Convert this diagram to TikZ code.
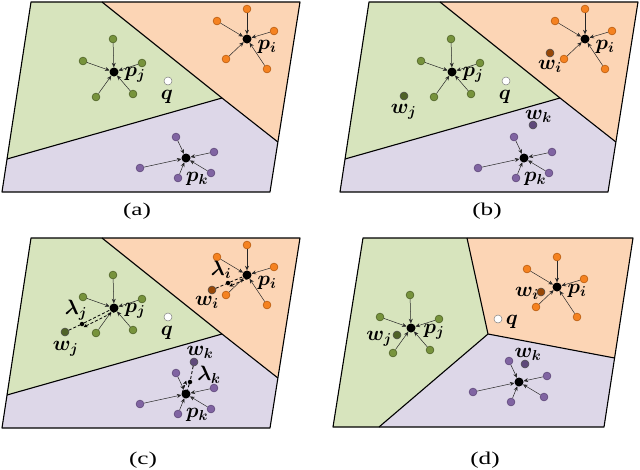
\documentclass[tikz,border=0pt]{standalone}
\usepackage{fontspec}
\newfontfamily\capfont{Liberation Serif}
\usetikzlibrary{arrows.meta,calc}
\definecolor{rgG}{HTML}{D7E4BD}
\definecolor{rgO}{HTML}{FCD5B5}
\definecolor{rgP}{HTML}{DDD7E8}
\definecolor{stG}{HTML}{77933C}
\definecolor{stGd}{HTML}{4F6228}
\definecolor{stO}{HTML}{F58220}
\definecolor{stOd}{HTML}{B85C10}
\definecolor{stP}{HTML}{8064A2}
\definecolor{stPd}{HTML}{5F497A}
\definecolor{wG}{HTML}{4F6228}
\definecolor{wO}{HTML}{984807}
\definecolor{wP}{HTML}{5F497A}
\tikzset{
 border/.style={draw=black,line width=1.1pt,line join=round},
 ctr/.style={circle,fill=black,inner sep=0,minimum size=9pt},
 sat/.style={circle,inner sep=0,minimum size=7.8pt,line width=0.6pt},
 satG/.style={sat,fill=stG,draw=stGd},
 satO/.style={sat,fill=stO,draw=stOd},
 satP/.style={sat,fill=stP,draw=stPd},
 wdot/.style={circle,inner sep=0,minimum size=8pt,line width=0.5pt},
 wdG/.style={wdot,fill=wG,draw=black!70},
 wdO/.style={wdot,fill=wO,draw=black!70},
 wdP/.style={wdot,fill=wP,draw=black!70},
 arr/.style={line width=0.5pt,draw=black!85,-{Stealth[length=4.5pt,width=4pt]}},
 darr/.style={line width=0.8pt,dash pattern=on 3pt off 2pt,-{Stealth[length=4pt,width=4pt]}},
 dln/.style={line width=0.8pt,dash pattern=on 3pt off 2pt},
 lbl/.style={font=\fontsize{21}{23}\selectfont\boldmath,inner sep=0},
 captxt/.style={font=\capfont\fontsize{18}{20}\selectfont,inner sep=0,xscale=1.4},
 qdot/.style={circle,fill=white,draw=black!50,line width=0.5pt,inner sep=0,minimum size=8pt},
 sdot/.style={circle,fill=black,inner sep=0,minimum size=4.5pt},
}
\newcommand{\offJ}{1/-1/-33,2/-31/-11,3/28/-9,4/-18/25,5/19/22}
\newcommand{\offI}{1/0/-30,2/-30/-18,3/27/-8,4/-21/20,5/20/30}
\newcommand{\offK}{1/-10/-21,2/28/-6,3/-46/10,4/-8/20,5/25/15}
\newcommand{\mkclus}[4]{%
  \node[ctr] (#1) at #2 {};
  \foreach \k/\dx/\dy in #4 {
    \node[#3] (#1\k) at ($(#1)+(\dx,\dy)$) {};
    \draw[arr] (#1\k) -- (#1);
  }%
}
\newcommand{\basepanel}[1]{%
  \fill[rgG] (31,2) -- (102,2) -- (222,98) -- (7,159) -- cycle;
  \fill[rgO] (102,2) -- (300,2) -- (277.9,142) -- (222,98) -- cycle;
  \fill[rgP] (7,159) -- (222,98) -- (277.9,142) -- (270,192) -- (2,192) -- cycle;
  \draw[border] (31,2) -- (300,2) -- (270,192) -- (2,192) -- cycle;
  \draw[border] (102,2) -- (222,98) -- (277.9,142);
  \draw[border] (7,159) -- (222,98);
  \mkclus{#1j}{(114,72)}{satG}{\offJ}
  \mkclus{#1i}{(247,39)}{satO}{\offI}
  \mkclus{#1k}{(186,158)}{satP}{\offK}
  \node[lbl] (#1pj) at (135,75) {$p_j$};
  \node[lbl] (#1pi) at (267,47) {$p_i$};
  \node[lbl] (#1pk) at (197,179) {$p_k$};
  \node[qdot] (#1q) at (168,81) {};
  \node[lbl] (#1ql) at (167,97) {$q$};
}
\begin{document}
\begin{tikzpicture}[x=1pt,y=-1pt]
\useasboundingbox (0,0) rectangle (640,469);
% (a)
\begin{scope}
  \basepanel{a}
\end{scope}
\node[captxt] (capa) at (137,211) {(a)};
% (b)
\begin{scope}[shift={(338,0)}]
  \basepanel{b}
  \node[lbl] (bwjl) at (65.5,112) {$w_j$};
  \node[wdG] (bwj) at (66,96) {};
  \node[lbl] (bwil) at (212,66) {$w_i$};
  \node[wdO] (bwi) at (212,53) {};
  \node[lbl] (bwkl) at (200.5,116.5) {$w_k$};
  \node[wdP] (bwk) at (195,125) {};
\end{scope}
\node[captxt] (capb) at (487,211) {(b)};
% (c)
\begin{scope}[shift={(0,236)}]
  \basepanel{c}
  % j
  \node[lbl] (cwjl) at (65.5,112.5) {$w_j$};
  \node[wdG] (cwj) at (65,96) {};
  \node[sdot] (cdj) at (82,88) {};
  \draw[dln] (cwj) -- (cdj);
  \draw[dln] (cdj) -- (cj);
  \draw[darr] ($(cj)!3.5pt!90:(cdj)$) -- ($(cdj)!3.5pt!-90:(cj)$);
  \node[lbl] (clj) at (76,74) {$\lambda_j$};
  % i
  \node[lbl] (cwil) at (207,66) {$w_i$};
  \node[wdO] (cwi) at (212,54) {};
  \node[sdot] (cdi) at (228,47) {};
  \draw[dln] (cwi) -- (cdi);
  \draw[dln] (cdi) -- (ci);
  \draw[darr] ($(ci)!3.5pt!90:(cdi)$) -- ($(cdi)!3.5pt!-90:(ci)$);
  \node[lbl] (cli) at (221,34) {$\lambda_i$};
  % k
  \node[lbl] (cwkl) at (200,116) {$w_k$};
  \node[wdP] (cwk) at (194,126) {};
  \node[sdot] (cdk) at (190,146) {};
  \draw[dln] (cwk) -- (cdk);
  \draw[dln] (cdk) -- (ck);
  \draw[darr] ($(ck)!4pt!90:(cdk)$) -- ($(cdk)!4pt!-90:(ck)$);
  \node[lbl] (clk) at (209,139) {$\lambda_k$};
\end{scope}
\node[captxt] (capc) at (143,460) {(c)};
% (d)
\fill[rgG] (363,238) -- (467,238) -- (488,334) -- (379,427) -- (333,427) -- cycle;
\fill[rgO] (467,238) -- (633,238) -- (614.6,358) -- (488,334) -- cycle;
\fill[rgP] (488,334) -- (614.6,358) -- (604,427) -- (379,427) -- cycle;
\draw[border] (363,238) -- (633,238) -- (604,427) -- (333,427) -- cycle;
\draw[border] (467,238) -- (488,334) -- (614.6,358);
\draw[border] (488,334) -- (379,427);
\mkclus{dj}{(411,328)}{satG}{\offJ}
\mkclus{di}{(557,287)}{satO}{\offI}
\mkclus{dk}{(519,382)}{satP}{\offK}
\node[lbl] (dpj) at (434,332) {$p_j$};
\node[lbl] (dpi) at (577,291) {$p_i$};
\node[qdot] (dq) at (498,319) {};
\node[lbl] (dql) at (512,322) {$q$};
\node[lbl] (dwjl) at (379,339) {$w_j$};
\node[wdG] (dwj) at (397,335) {};
\node[lbl] (dwil) at (527,293) {$w_i$};
\node[wdO] (dwi) at (541,292) {};
\node[lbl] (dwkl) at (528,354) {$w_k$};
\node[wdP] (dwk) at (525,364) {};
\node[captxt] (capd) at (485,460) {(d)};
\end{tikzpicture}
\end{document}
